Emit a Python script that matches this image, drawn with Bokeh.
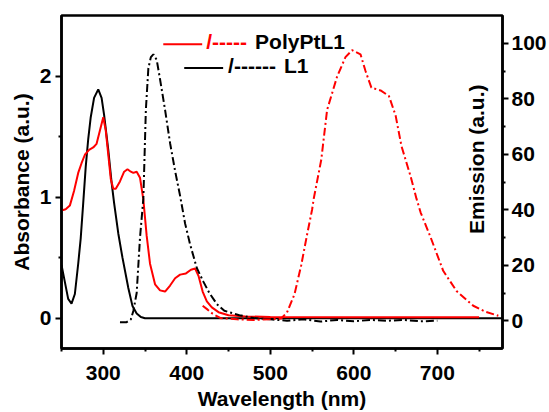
import math
from bokeh.plotting import figure
from bokeh.models import Range1d, LinearAxis, FixedTicker, Label
from bokeh.embed import file_html
from bokeh.resources import INLINE

# ---- absorbance spectra (left axis) ----
abs_l1_wl = [250, 254, 258, 262, 266, 270, 273, 276, 279, 282, 285, 289, 294, 298,
             301, 306, 310, 313, 318, 323, 330, 335, 340, 345, 350, 400, 500, 600, 700, 778]
abs_l1 = [0.44, 0.30, 0.16, 0.12, 0.20, 0.45, 0.66, 0.95, 1.25, 1.48, 1.66, 1.82, 1.89, 1.82,
          1.68, 1.39, 1.12, 0.95, 0.70, 0.50, 0.25, 0.10, 0.04, 0.01, 0.0, 0.0, 0.0, 0.0, 0.0, 0.0]

abs_pt_wl = [250, 255, 260, 265, 270, 274, 278, 283, 288, 292, 296, 300, 303, 306, 309, 312,
             315, 320, 325, 329, 333, 336, 340, 344, 348, 352, 356, 362, 368, 374, 380, 386,
             392, 399, 405, 410, 414, 419, 424, 430, 438, 450, 470, 500, 600, 750]
abs_pt = [0.89, 0.90, 0.93, 1.05, 1.20, 1.28, 1.35, 1.39, 1.41, 1.44, 1.55, 1.66, 1.55, 1.35,
          1.15, 1.07, 1.07, 1.13, 1.21, 1.23, 1.21, 1.20, 1.21, 1.16, 0.98, 0.68, 0.45, 0.28,
          0.23, 0.22, 0.27, 0.33, 0.36, 0.37, 0.40, 0.41, 0.35, 0.22, 0.14, 0.09, 0.05, 0.025,
          0.015, 0.01, 0.008, 0.008]

# ---- emission spectra (right axis) ----
em_l1_wl = [320, 328, 333, 336, 340, 344, 348, 351, 354, 357, 360, 364, 368, 374, 380, 386,
            392, 398, 404, 412, 420, 427, 436, 445, 463, 480, 500, 520, 540, 560, 580, 600,
            620, 640, 660, 680, 700]
em_l1 = [-0.5, -0.5, 0.5, 3.5, 10, 30, 44, 76, 91, 95, 96, 94, 87, 76, 64, 54,
         45, 35, 27.5, 19, 14, 10, 6, 3.6, 2, 1.0, 0.5, 0.0, 0.5, -0.3, 0.3, -0.2,
         0.3, 0.0, 0.3, -0.2, 0.0]

em_pt_wl = [419, 425, 431, 440, 460, 480, 500, 513, 520, 529, 537, 544, 550, 552, 561, 568,
            580, 590, 598, 608, 614, 621, 632, 642, 650, 657, 668, 675, 680, 692, 707, 723,
            743, 758, 773]
em_pt = [5.4, 4.0, 2.5, 1.0, 0.5, 0.3, 0.5, 0.8, 3.0, 9.6, 20, 31, 40, 44, 58, 76,
         88, 95, 97.5, 96, 90, 84, 83, 81, 74, 63, 52, 44, 39, 30, 18, 10.7,
         5.4, 3.2, 1.8]

x_ticks = [300, 400, 500, 600, 700]
x_minor = [250, 350, 450, 550, 650, 750]
abs_ticks = [0, 1, 2]
abs_minor = [0.5, 1.5]
em_ticks = [0, 20, 40, 60, 80, 100]
em_minor = [10, 30, 50, 70, 90]

RED = "#ff0000"
BLACK = "#000000"
FONT = "Liberation Sans"
FS = "21px"

X0, X1 = 250, 778
Y0, Y1 = -0.25, 2.5
E0, E1 = -10, 110

W, H = 549, 412
FL, FT, FR, FB = 61, 15, 503, 351  # frame edges in pixels


def px_x(px):
    return X0 + (px - FL) * (X1 - X0) / (FR - FL)


def px_y(py):
    return Y1 - (py - FT) * (Y1 - Y0) / (FB - FT)


p = figure(width=W, height=H, x_range=Range1d(X0, X1), y_range=Range1d(Y0, Y1),
           output_backend="svg", toolbar_location=None,
           min_border_left=FL, min_border_top=FT,
           min_border_right=W - FR, min_border_bottom=H - FB)
p.extra_y_ranges = {"em": Range1d(E0, E1)}

p.xgrid.visible = False
p.ygrid.visible = False
p.outline_line_color = BLACK
p.outline_line_width = 2.5
p.background_fill_color = "white"
p.border_fill_color = "white"


def style_axis(ax, standoff=3):
    ax.axis_line_width = 2.5
    ax.axis_line_color = BLACK
    ax.major_tick_line_width = 2
    ax.minor_tick_line_width = 2
    ax.major_tick_in = 0
    ax.major_tick_out = 6
    ax.minor_tick_in = 0
    ax.minor_tick_out = 3
    ax.major_label_text_font = FONT
    ax.major_label_text_font_style = "bold"
    ax.major_label_text_font_size = FS
    ax.major_label_text_color = BLACK
    ax.major_label_standoff = standoff
    ax.axis_label_text_font = FONT
    ax.axis_label_text_font_style = "bold"
    ax.axis_label_text_font_size = FS
    ax.axis_label_text_color = BLACK


xa = p.xaxis[0]
xa.ticker = FixedTicker(ticks=x_ticks, minor_ticks=x_minor)
style_axis(xa, standoff=11)
xa.axis_label = "Wavelength (nm)"
xa.axis_label_standoff = 4

ya = p.yaxis[0]
ya.ticker = FixedTicker(ticks=abs_ticks, minor_ticks=abs_minor)
style_axis(ya, standoff=4)
ya.axis_label = "Absorbance (a.u.)"
ya.axis_label_standoff = 4

ra = LinearAxis(y_range_name="em", ticker=FixedTicker(ticks=em_ticks, minor_ticks=em_minor))
style_axis(ra)
p.add_layout(ra, "right")

# spectra
p.line(abs_l1_wl, abs_l1, line_color=BLACK, line_width=2)
p.line(abs_pt_wl, abs_pt, line_color=RED, line_width=2)
p.line(em_l1_wl, em_l1, line_color=BLACK, line_width=2, line_dash="8 3 2 3",
       y_range_name="em")
p.line(em_pt_wl, em_pt, line_color=RED, line_width=2, line_dash="8 3 2 3",
       y_range_name="em")


def text_label(px, py, text, color=BLACK, align="left", angle=0.0):
    p.add_layout(Label(x=px_x(px), y=px_y(py), text=text, text_color=color,
                       text_font=FONT, text_font_style="bold", text_font_size=FS,
                       text_align=align, text_baseline="middle", angle=angle))


# right-hand title sits inside the frame, next to the emission axis
text_label(477, 160, "Emission (a.u.)", align="center", angle=math.pi / 2)

# legend
p.segment(x0=[px_x(163)], y0=[px_y(44)], x1=[px_x(202)], y1=[px_y(44)],
          line_color=RED, line_width=2)
text_label(206, 41, "/-----", color=RED)
text_label(255, 41, "PolyPtL1")
p.segment(x0=[px_x(184)], y0=[px_y(68)], x1=[px_x(223)], y1=[px_y(68)],
          line_color=BLACK, line_width=2)
text_label(228, 65, "/------")
text_label(284, 65, "L1")

open("out.html", "w").write(file_html(p, INLINE))
